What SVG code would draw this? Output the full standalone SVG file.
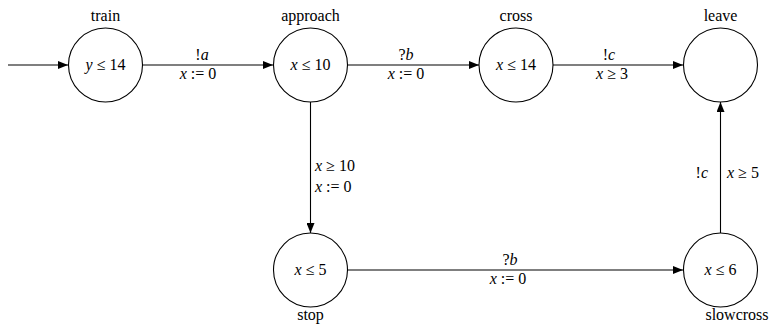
<svg xmlns="http://www.w3.org/2000/svg" width="772" height="324" viewBox="0 0 772 324">
<defs>
<marker id="ah" viewBox="0 0 10 8" refX="10" refY="4" markerWidth="11" markerHeight="8" markerUnits="userSpaceOnUse" orient="auto">
<path d="M0,0 L10,4 L0,8 z" fill="#000"/>
</marker>
</defs>
<g id="connectors" stroke="#000" stroke-width="1.1" fill="none" marker-end="url(#ah)">
<line x1="8" y1="65" x2="68" y2="65"/>
<line x1="142" y1="65" x2="273" y2="65"/>
<line x1="348" y1="65" x2="479" y2="65"/>
<line x1="553" y1="65" x2="683" y2="65"/>
<line x1="310.5" y1="102" x2="310.5" y2="233"/>
<line x1="348" y1="270" x2="683" y2="270"/>
<line x1="720.5" y1="233" x2="720.5" y2="102"/>
</g>
<g id="edge-labels" fill="#000">
<text x="202" y="60" font-family="Liberation Serif" font-size="16" text-anchor="middle">!<tspan font-style="italic">a</tspan></text>
<text x="198" y="79" font-family="Liberation Serif" font-size="16" text-anchor="middle"><tspan font-style="italic">x</tspan> := 0</text>
<text x="406" y="60" font-family="Liberation Serif" font-size="16" text-anchor="middle">?<tspan font-style="italic">b</tspan></text>
<text x="406" y="79" font-family="Liberation Serif" font-size="16" text-anchor="middle"><tspan font-style="italic">x</tspan> := 0</text>
<text x="609" y="60" font-family="Liberation Serif" font-size="16" text-anchor="middle">!<tspan font-style="italic">c</tspan></text>
<text x="612" y="79" font-family="Liberation Serif" font-size="16" text-anchor="middle"><tspan font-style="italic">x</tspan> &#x2265; 3</text>
<text x="315" y="171" font-family="Liberation Serif" font-size="16"><tspan font-style="italic">x</tspan> &#x2265; 10</text>
<text x="315" y="192" font-family="Liberation Serif" font-size="16"><tspan font-style="italic">x</tspan> := 0</text>
<text x="510" y="265" font-family="Liberation Serif" font-size="16" text-anchor="middle">?<tspan font-style="italic">b</tspan></text>
<text x="508" y="284" font-family="Liberation Serif" font-size="16" text-anchor="middle"><tspan font-style="italic">x</tspan> := 0</text>
<text x="708" y="178" font-family="Liberation Serif" font-size="16" text-anchor="end">!<tspan font-style="italic">c</tspan></text>
<text x="727" y="178" font-family="Liberation Serif" font-size="16"><tspan font-style="italic">x</tspan> &#x2265; 5</text>
</g>
<g id="train">
<circle cx="105.5" cy="65" r="37" fill="#fff" stroke="#000" stroke-width="1.1"/>
<text x="105.5" y="21" font-family="Liberation Serif" font-size="16" text-anchor="middle">train</text>
<text x="105.5" y="70" font-family="Liberation Serif" font-size="16" text-anchor="middle"><tspan font-style="italic">y</tspan> &#x2264; 14</text>
</g>
<g id="approach">
<circle cx="310.5" cy="65" r="37" fill="#fff" stroke="#000" stroke-width="1.1"/>
<text x="310.5" y="21" font-family="Liberation Serif" font-size="16" text-anchor="middle">approach</text>
<text x="310.5" y="70" font-family="Liberation Serif" font-size="16" text-anchor="middle"><tspan font-style="italic">x</tspan> &#x2264; 10</text>
</g>
<g id="cross">
<circle cx="516" cy="65" r="37" fill="#fff" stroke="#000" stroke-width="1.1"/>
<text x="516" y="21" font-family="Liberation Serif" font-size="16" text-anchor="middle">cross</text>
<text x="516" y="70" font-family="Liberation Serif" font-size="16" text-anchor="middle"><tspan font-style="italic">x</tspan> &#x2264; 14</text>
</g>
<g id="leave">
<circle cx="720.5" cy="65" r="37" fill="#fff" stroke="#000" stroke-width="1.1"/>
<text x="720.5" y="21" font-family="Liberation Serif" font-size="16" text-anchor="middle">leave</text>
</g>
<g id="stop">
<circle cx="310.5" cy="270" r="37" fill="#fff" stroke="#000" stroke-width="1.1"/>
<text x="310.5" y="320" font-family="Liberation Serif" font-size="16" text-anchor="middle">stop</text>
<text x="310.5" y="275" font-family="Liberation Serif" font-size="16" text-anchor="middle"><tspan font-style="italic">x</tspan> &#x2264; 5</text>
</g>
<g id="slowcross">
<circle cx="720.5" cy="270" r="37" fill="#fff" stroke="#000" stroke-width="1.1"/>
<text x="737" y="320" font-family="Liberation Serif" font-size="16" text-anchor="middle">slowcross</text>
<text x="720.5" y="275" font-family="Liberation Serif" font-size="16" text-anchor="middle"><tspan font-style="italic">x</tspan> &#x2264; 6</text>
</g>
</svg>
